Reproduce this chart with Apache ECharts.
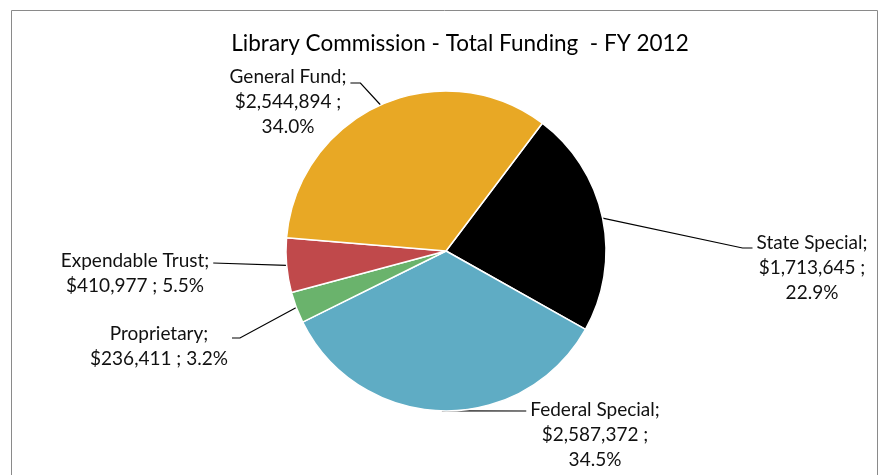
<!DOCTYPE html>
<html>
<head>
<meta charset="utf-8">
<script src="https://cdn.jsdelivr.net/npm/echarts@6/dist/echarts.min.js"></script>
<style>
  html, body { margin: 0; padding: 0; background: #ffffff; }
  #chart { width: 884px; height: 475px; }
</style>
</head>
<body>
<div id="chart"></div>
<script>
// Funding sources, in clockwise order starting from the State Special slice
const categories = ['State Special', 'Federal Special', 'Proprietary', 'Expendable Trust', 'General Fund'];
const fundingValues = [1713645, 2587372, 236411, 410977, 2544894];
const sliceColors = ['#000000', '#5FACC4', '#6AB36C', '#C0494B', '#E8A825'];
const titleText = 'Library Commission - Total Funding  - FY 2012';

// Where each label block sits: centre x, top y, the side its leader attaches to,
// the leader's y at the label, the short horizontal elbow, and how the text wraps.
const labelPlacement = {
  'State Special':    { x: 812, top: 230, side: 'left',  attachY: 248, elbow: 10, lines: 3 },
  'Federal Special':  { x: 595, top: 397, side: 'left',  attachY: 411, elbow: 0,  lines: 3 },
  'Proprietary':      { x: 159, top: 321, side: 'right', attachY: 338, elbow: 8,  lines: 2 },
  'Expendable Trust': { x: 135, top: 248, side: 'right', attachY: 263, elbow: 0,  lines: 2 },
  'General Fund':     { x: 288, top: 64,  side: 'right', attachY: 83,  elbow: 10, lines: 3 }
};

const pieCenter = [446, 251];
const pieRadius = 160;
const pieStartAngle = 53;
const labelFont = 'Lato, "Open Sans", sans-serif';

const total = fundingValues.reduce((a, b) => a + b, 0);

function money(v) {
  return '$' + v.toLocaleString('en-US');
}

function labelText(i) {
  const name = categories[i];
  const pct = (fundingValues[i] / total * 100).toFixed(1) + '%';
  const place = labelPlacement[name];
  if (place.lines === 3) {
    return name + ';\n' + money(fundingValues[i]) + ' ;\n' + pct;
  }
  return name + ';\n' + money(fundingValues[i]) + ' ; ' + pct;
}

// Mid point of a slice's outer arc, used if the series does not hand one over
function arcMid(i) {
  let before = 0;
  for (let k = 0; k < i; k++) before += fundingValues[k];
  const mid = (before + fundingValues[i] / 2) / total;
  const ang = (pieStartAngle - mid * 360) * Math.PI / 180;
  return [pieCenter[0] + pieRadius * Math.cos(ang), pieCenter[1] - pieRadius * Math.sin(ang)];
}

const chart = echarts.init(document.getElementById('chart'), null, { renderer: 'canvas' });

chart.setOption({
  animation: false,
  backgroundColor: '#ffffff',
  graphic: [
    {
      type: 'rect',
      shape: { x: 11.5, y: 10.5, width: 866, height: 470 },
      style: { fill: 'none', stroke: '#8a8a8a', lineWidth: 1 },
      silent: true
    },
    {
      type: 'text',
      x: 460,
      y: 44,
      style: {
        text: titleText,
        fill: '#000000',
        font: '22.5px ' + labelFont,
        align: 'center',
        verticalAlign: 'middle'
      },
      silent: true
    }
  ],
  series: [
    {
      type: 'pie',
      center: pieCenter,
      radius: pieRadius,
      startAngle: pieStartAngle,
      clockwise: true,
      avoidLabelOverlap: false,
      silent: true,
      data: categories.map((name, i) => ({
        name: name,
        value: fundingValues[i],
        itemStyle: { color: sliceColors[i] }
      })),
      itemStyle: { borderColor: '#ffffff', borderWidth: 1.5 },
      label: {
        show: true,
        position: 'outside',
        formatter: (p) => labelText(p.dataIndex),
        color: '#111111',
        fontFamily: labelFont,
        fontSize: 19,
        lineHeight: 25,
        align: 'center'
      },
      labelLine: {
        show: true,
        length: 20,
        length2: 10,
        lineStyle: { color: '#000000', width: 1.2 }
      },
      labelLayout: function (params) {
        const name = categories[params.dataIndex];
        const place = labelPlacement[name];
        const w = params.labelRect.width;
        const start = (params.labelLinePoints && params.labelLinePoints[0])
          ? params.labelLinePoints[0]
          : arcMid(params.dataIndex);
        const endX = place.side === 'left' ? place.x - w / 2 - 4 : place.x + w / 2 + 4;
        const elbowX = place.side === 'left' ? endX - place.elbow : endX + place.elbow;
        return {
          x: place.x,
          y: place.top,
          align: 'center',
          verticalAlign: 'top',
          labelLinePoints: [start, [elbowX, place.attachY], [endX, place.attachY]]
        };
      }
    }
  ]
});
</script>
</body>
</html>
